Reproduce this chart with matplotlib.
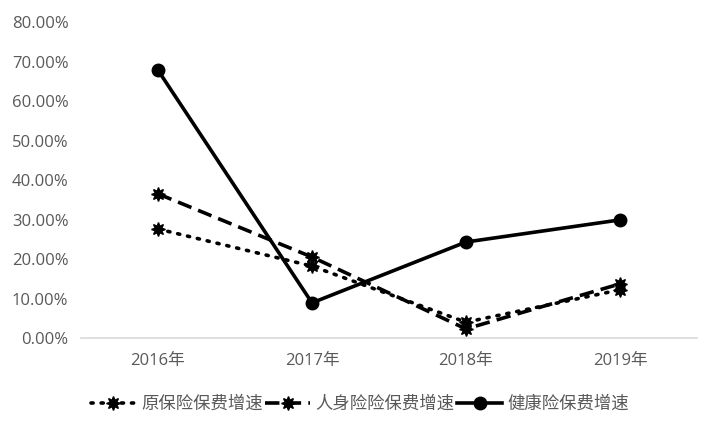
import matplotlib
matplotlib.use('Agg')
import matplotlib.pyplot as plt
from matplotlib.ticker import FuncFormatter

plt.rcParams['font.family'] = ['Open Sans', 'Noto Sans CJK SC', 'DejaVu Sans']

years = ['2016年', '2017年', '2018年', '2019年']
yuan_growth = [27.6, 18.2, 4.0, 12.2]
renshen_growth = [36.5, 20.5, 2.3, 13.7]
jiankang_growth = [67.8, 8.9, 24.3, 29.9]
series_names = ['原保险保费增速', '人身险险保费增速', '健康险保费增速']

fig = plt.figure(figsize=(7.2, 4.32), dpi=100)
ax = fig.add_axes([0.1125, 0.2176, 0.8555, 0.7314])

x = list(range(len(years)))
star = (8, 1, 0)
ax.plot(x, yuan_growth, linestyle=(0, (0.6, 2.2)), dash_capstyle='round', color='black', lw=2.6,
        marker=star, ms=10, label=series_names[0])
ax.plot(x, renshen_growth, linestyle=(0, (4, 2)), color='black', lw=2.6,
        marker=star, ms=10, label=series_names[1])
ax.plot(x, jiankang_growth, linestyle='-', color='black', lw=2.6,
        marker='o', ms=9, label=series_names[2])

ax.set_xlim(-0.5, 3.5)
ax.set_ylim(0, 80)
ax.set_yticks(range(0, 81, 10))
ax.yaxis.set_major_formatter(FuncFormatter(lambda v, p: '{0:.2f}%'.format(v)))
ax.set_xticks(x)
ax.set_xticklabels(years)

for s in ['top', 'right', 'left']:
    ax.spines[s].set_visible(False)
ax.spines['bottom'].set_color('#d9d9d9')
ax.spines['bottom'].set_linewidth(1.2)
ax.tick_params(axis='both', length=0, colors='#595959', labelsize=12)
ax.tick_params(axis='x', pad=11)
ax.tick_params(axis='y', pad=9)

leg = fig.legend(loc='center', bbox_to_anchor=(0.5, 0.065), ncol=3, frameon=False,
                 handlelength=2.6, handletextpad=0.3, columnspacing=0.15,
                 prop={'family': ['Noto Sans CJK SC', 'DejaVu Sans'], 'size': 12.5})
for t in leg.get_texts():
    t.set_color('#595959')

fig.savefig('out.png', dpi=100)
